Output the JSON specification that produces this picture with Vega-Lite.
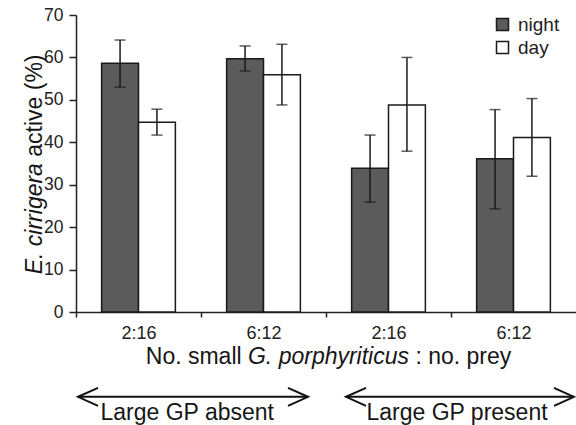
{
  "$schema": "https://vega.github.io/schema/vega-lite/v6.json",
  "autosize": {"type": "none"},
  "padding": {"left": 76, "top": 15, "right": 0, "bottom": 113},
  "width": 500,
  "height": 297,
  "config": {
    "font": "Liberation Sans",
    "view": {"stroke": null},
    "axis": {
      "domainColor": "#222",
      "tickColor": "#222",
      "labelColor": "#222",
      "labelFontSize": 17,
      "domainWidth": 1.5,
      "tickWidth": 1.5,
      "grid": false,
      "labelFont": "Liberation Sans"
    },
    "text": {"font": "Liberation Sans", "color": "#161616"}
  },
  "resolve": {"scale": {"x": "independent"}},
  "layer": [
    {
      "data": {
        "values": [
          {"group": "A|2:16", "time": "night", "value": 58.6, "lo": 53.0, "hi": 64.1},
          {"group": "A|2:16", "time": "day", "value": 44.7, "lo": 41.7, "hi": 47.8},
          {"group": "A|6:12", "time": "night", "value": 59.7, "lo": 56.8, "hi": 62.7},
          {"group": "A|6:12", "time": "day", "value": 55.9, "lo": 48.8, "hi": 63.1},
          {"group": "B|2:16", "time": "night", "value": 33.9, "lo": 25.9, "hi": 41.7},
          {"group": "B|2:16", "time": "day", "value": 48.8, "lo": 37.9, "hi": 60.0},
          {"group": "B|6:12", "time": "night", "value": 36.1, "lo": 24.3, "hi": 47.7},
          {"group": "B|6:12", "time": "day", "value": 41.1, "lo": 32.0, "hi": 50.3}
        ]
      },
      "encoding": {
        "x": {
          "field": "group",
          "type": "nominal",
          "sort": ["A|2:16", "A|6:12", "B|2:16", "B|6:12"],
          "scale": {"paddingInner": 0.41, "paddingOuter": 0.205},
          "axis": {
            "title": null,
            "labelAngle": 0,
            "labelFontSize": 18,
            "tickSize": 5,
            "tickOffset": -62.5,
            "labelOffset": 62.5,
            "labelPadding": 7,
            "labelExpr": "split(datum.label, '|')[1]"
          }
        },
        "xOffset": {"field": "time", "type": "nominal", "sort": ["night", "day"]}
      },
      "layer": [
        {
          "mark": {"type": "bar", "stroke": "#1a1a1a", "strokeWidth": 1.5},
          "encoding": {
            "y": {
              "field": "value",
              "type": "quantitative",
              "scale": {"domain": [0, 70], "nice": false},
              "axis": {"title": null, "values": [0, 10, 20, 30, 40, 50, 60, 70], "tickSize": 7, "labelPadding": 6, "labelFontSize": 17.5}
            },
            "fill": {
              "field": "time",
              "type": "nominal",
              "scale": {"domain": ["night", "day"], "range": ["#5b5b5b", "#ffffff"]},
              "legend": {
                "orient": "none",
                "legendX": 417,
                "legendY": 0,
                "title": null,
                "padding": 0,
                "symbolType": "square",
                "symbolSize": 144,
                "symbolStrokeColor": "#1a1a1a",
                "symbolStrokeWidth": 1.5,
                "labelFontSize": 19,
                "labelColor": "#222",
                "labelOffset": 6,
                "rowPadding": 3
              }
            }
          }
        },
        {
          "mark": {"type": "rule", "stroke": "#1a1a1a", "strokeWidth": 1.5},
          "encoding": {
            "y": {"field": "lo", "type": "quantitative"},
            "y2": {"field": "hi"}
          }
        },
        {
          "mark": {"type": "tick", "color": "#1a1a1a", "thickness": 1.5, "size": 11},
          "encoding": {"y": {"field": "lo", "type": "quantitative"}}
        },
        {
          "mark": {"type": "tick", "color": "#1a1a1a", "thickness": 1.5, "size": 11},
          "encoding": {"y": {"field": "hi", "type": "quantitative"}}
        }
      ]
    },
    {
      "layer": [
        {
          "data": {"values": [{"label": "No. small"}]},
          "mark": {"type": "text", "fontSize": 23, "align": "right", "baseline": "alphabetic"},
          "encoding": {
            "x": {"datum": 1.325, "type": "quantitative", "scale": {"domain": [0, 4]}, "axis": null},
            "y": {"datum": -12.25, "type": "quantitative"},
            "text": {"field": "label"}
          }
        },
        {
          "data": {"values": [{"label": "G. porphyriticus"}]},
          "mark": {"type": "text", "fontSize": 23, "fontStyle": "italic", "align": "center", "baseline": "alphabetic"},
          "encoding": {
            "x": {"datum": 2.02, "type": "quantitative"},
            "y": {"datum": -12.25, "type": "quantitative"},
            "text": {"field": "label"}
          }
        },
        {
          "data": {"values": [{"label": ": no. prey"}]},
          "mark": {"type": "text", "fontSize": 23, "align": "left", "baseline": "alphabetic"},
          "encoding": {
            "x": {"datum": 2.715, "type": "quantitative"},
            "y": {"datum": -12.25, "type": "quantitative"},
            "text": {"field": "label"}
          }
        },
        {
          "data": {"values": [{"label": "E. cirrigera"}]},
          "mark": {"type": "text", "fontSize": 23, "fontStyle": "italic", "angle": 270, "align": "right", "baseline": "middle"},
          "encoding": {
            "x": {"datum": -0.33, "type": "quantitative"},
            "y": {"datum": 35.1, "type": "quantitative"},
            "text": {"field": "label"}
          }
        },
        {
          "data": {"values": [{"label": "active (%)"}]},
          "mark": {"type": "text", "fontSize": 23, "angle": 270, "align": "left", "baseline": "middle"},
          "encoding": {
            "x": {"datum": -0.33, "type": "quantitative"},
            "y": {"datum": 36.6, "type": "quantitative"},
            "text": {"field": "label"}
          }
        },
        {
          "data": {"values": [{"label": "Large GP absent"}]},
          "mark": {"type": "rule", "stroke": "#111", "strokeWidth": 2},
          "encoding": {
            "x": {"datum": 0.016, "type": "quantitative"},
            "x2": {"datum": 1.856},
            "y": {"datum": -20, "type": "quantitative"}
          }
        },
        {
          "data": {"values": [{"label": "Large GP present"}]},
          "mark": {"type": "rule", "stroke": "#111", "strokeWidth": 2},
          "encoding": {
            "x": {"datum": 2.16, "type": "quantitative"},
            "x2": {"datum": 3.984},
            "y": {"datum": -20, "type": "quantitative"}
          }
        },
        {
          "data": {"values": [{"label": "left"}]},
          "mark": {"type": "point", "shape": "M2,-0.9L0,0L2,0.9", "size": 400, "filled": false, "stroke": "#111", "strokeWidth": 2, "opacity": 1},
          "encoding": {
            "x": {"datum": 0.016, "type": "quantitative"},
            "y": {"datum": -20, "type": "quantitative"}
          }
        },
        {
          "data": {"values": [{"label": "left"}]},
          "mark": {"type": "point", "shape": "M2,-0.9L0,0L2,0.9", "size": 400, "filled": false, "stroke": "#111", "strokeWidth": 2, "opacity": 1},
          "encoding": {
            "x": {"datum": 2.16, "type": "quantitative"},
            "y": {"datum": -20, "type": "quantitative"}
          }
        },
        {
          "data": {"values": [{"label": "right"}]},
          "mark": {"type": "point", "shape": "M-2,-0.9L0,0L-2,0.9", "size": 400, "filled": false, "stroke": "#111", "strokeWidth": 2, "opacity": 1},
          "encoding": {
            "x": {"datum": 1.856, "type": "quantitative"},
            "y": {"datum": -20, "type": "quantitative"}
          }
        },
        {
          "data": {"values": [{"label": "right"}]},
          "mark": {"type": "point", "shape": "M-2,-0.9L0,0L-2,0.9", "size": 400, "filled": false, "stroke": "#111", "strokeWidth": 2, "opacity": 1},
          "encoding": {
            "x": {"datum": 3.984, "type": "quantitative"},
            "y": {"datum": -20, "type": "quantitative"}
          }
        },
        {
          "data": {"values": [{"label": "Large GP absent"}]},
          "mark": {"type": "text", "fontSize": 23, "align": "center", "baseline": "alphabetic"},
          "encoding": {
            "x": {"datum": 0.89, "type": "quantitative"},
            "y": {"datum": -25.45, "type": "quantitative"},
            "text": {"field": "label"}
          }
        },
        {
          "data": {"values": [{"label": "Large GP present"}]},
          "mark": {"type": "text", "fontSize": 23, "align": "center", "baseline": "alphabetic"},
          "encoding": {
            "x": {"datum": 3.048, "type": "quantitative"},
            "y": {"datum": -25.45, "type": "quantitative"},
            "text": {"field": "label"}
          }
        }
      ]
    }
  ]
}
